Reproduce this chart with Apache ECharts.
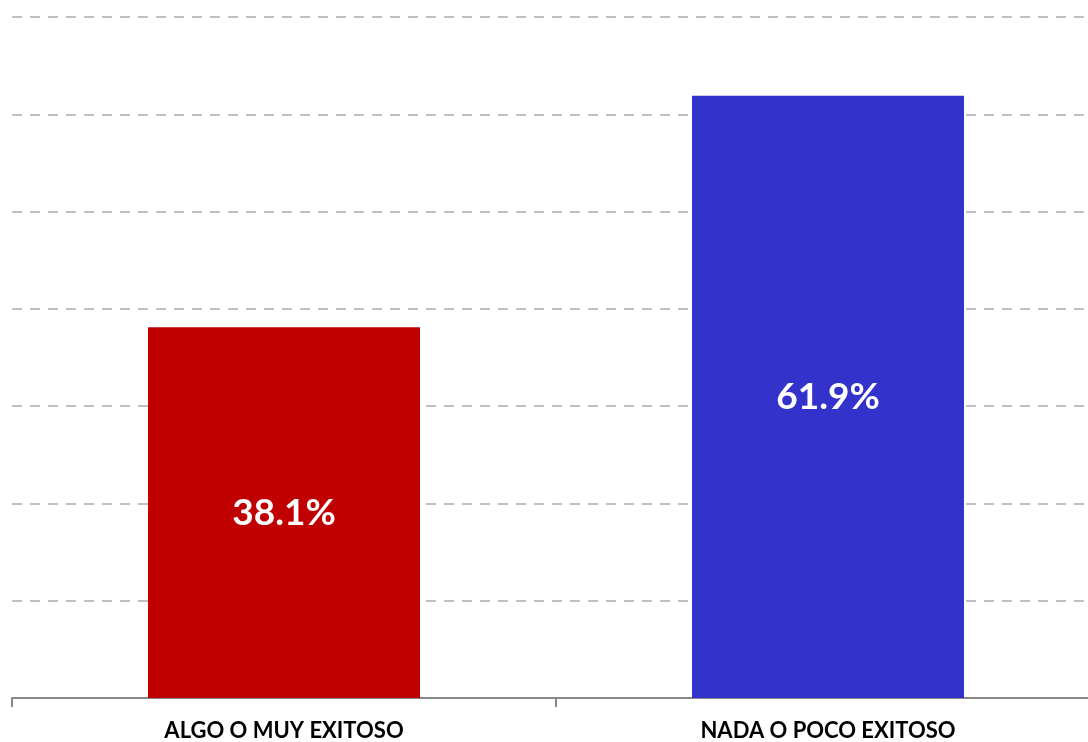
<!DOCTYPE html>
<html><head><meta charset="utf-8">
<script src="https://cdn.jsdelivr.net/npm/echarts@6/dist/echarts.min.js"></script>
<style>html,body{margin:0;padding:0;background:#fff}#c{width:1088px;height:742px}</style>
</head><body><div id="c"></div>
<script>
const categories = ["ALGO O MUY EXITOSO", "NADA O POCO EXITOSO"];
const values = [38.1, 61.9];
const barColors = ["#c00000", "#3333cc"];
const yMin = 0, yMax = 70, yInterval = 10;

const chart = echarts.init(document.getElementById('c'));
chart.setOption({
  animation: false,
  grid: {left: 12, width: 1088, top: 17, bottom: 44, containLabel: false, outerBoundsMode: 'none'},
  xAxis: {
    type: 'category', data: categories,
    axisLine: {lineStyle: {color: '#888888', width: 2}},
    axisTick: {show: true, length: 9, lineStyle: {color: '#888888', width: 2}},
    axisLabel: {color: '#000', fontFamily: 'Lato', fontWeight: 'bold', fontSize: 22, margin: 22}
  },
  yAxis: {
    type: 'value', min: yMin, max: yMax, interval: yInterval,
    axisLabel: {show: false}, axisLine: {show: false}, axisTick: {show: false},
    splitLine: {lineStyle: {color: '#c0c0c0', width: 2, type: [10, 8]}}
  },
  series: [{
    type: 'bar', barWidth: '50%',
    data: values.map((v, i) => ({value: v, itemStyle: {color: barColors[i]}})),
    label: {show: true, position: 'inside', color: '#fff', fontFamily: 'Lato', fontWeight: 'bold', fontSize: 37,
      formatter: p => p.value.toFixed(1) + '%'}
  }]
});
</script></body></html>
